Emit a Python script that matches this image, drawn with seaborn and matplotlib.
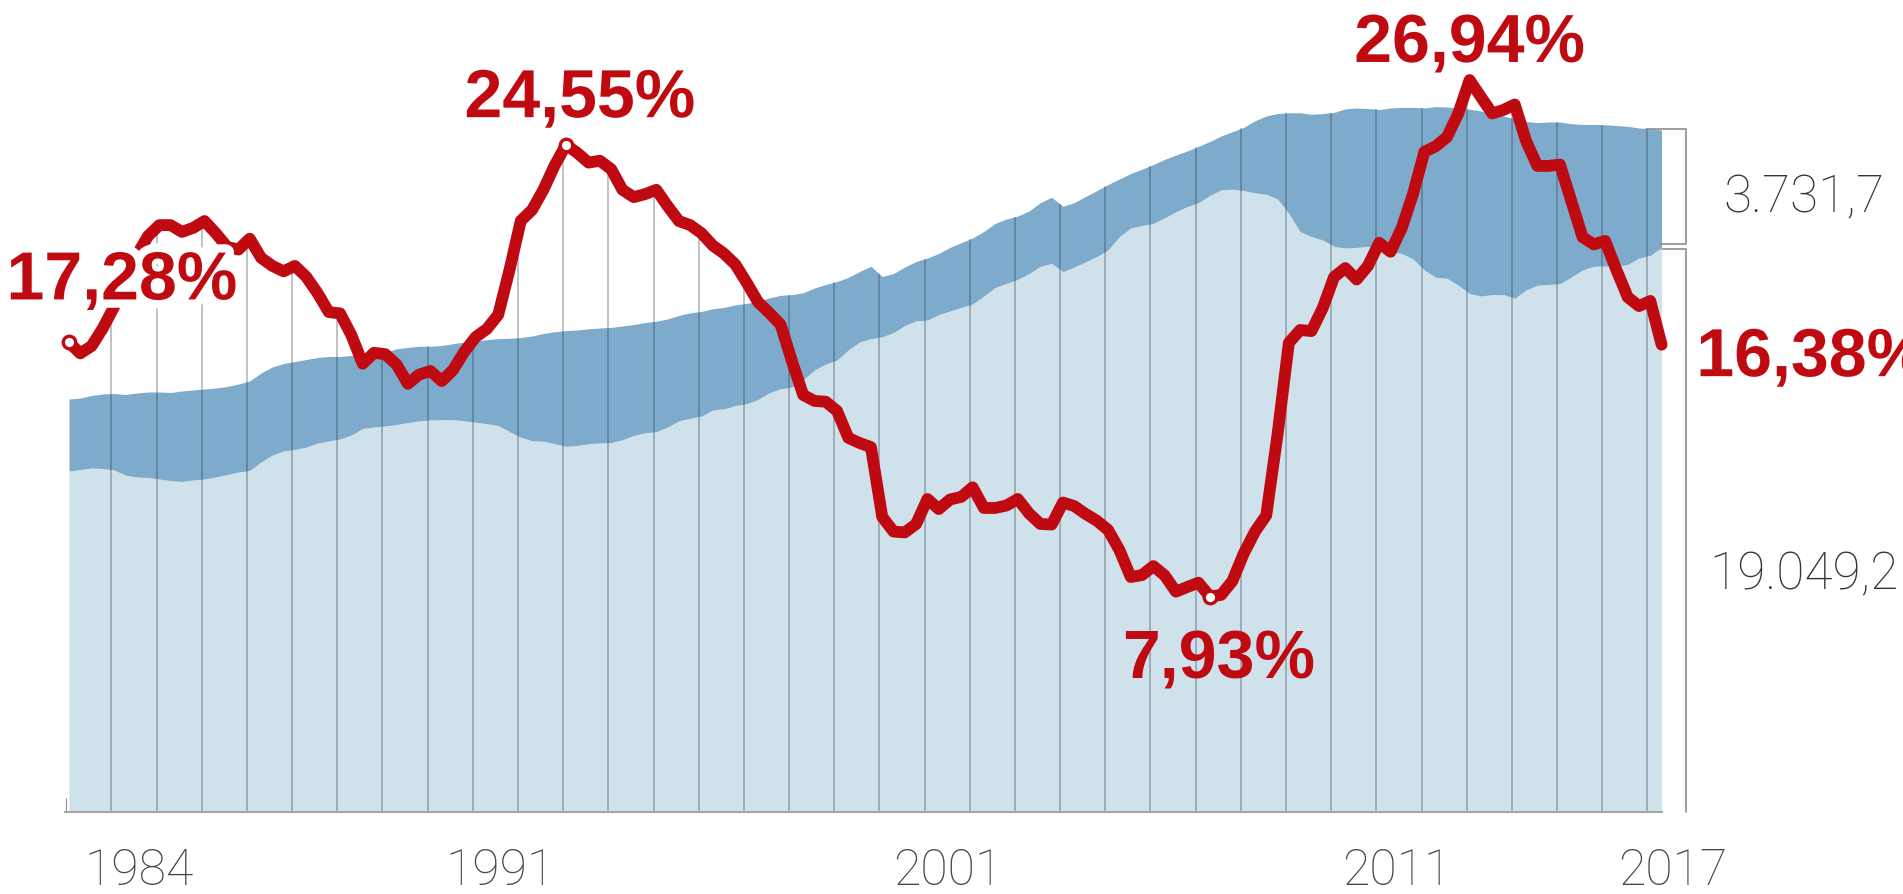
import numpy as np
import pandas as pd
import matplotlib
matplotlib.use("Agg")
import matplotlib.pyplot as plt
import matplotlib.patheffects as pe
import seaborn as sns
from matplotlib import font_manager

# EPA, quarterly series: 1982 Q1 - 2017 Q2
first_year = 1982

# unemployment rate (%)
paro = [17.28, 16.88, 17.15, 17.81, 18.6, 19.5, 20.5, 21.2, 21.6, 21.6,
        21.35, 21.5, 21.75, 21.3, 20.8, 20.7, 21.1, 20.4, 20.1, 19.9,
        20.1, 19.7, 19.1, 18.4, 18.35, 17.55, 16.5, 16.9, 16.85, 16.47,
        15.76, 16.1, 16.23, 15.86, 16.27, 16.94, 17.48, 17.78, 18.3, 19.95,
        21.76, 22.16, 22.9, 23.8, 24.55, 24.26, 23.9, 23.97, 23.66, 22.9,
        22.63, 22.74, 22.9, 22.3, 21.75, 21.6, 21.3, 20.85, 20.55, 20.15,
        19.48, 18.77, 18.37, 17.94, 16.6, 15.35, 15.13, 15.1, 14.76, 13.77,
        13.58, 13.43, 10.86, 10.32, 10.29, 10.6, 11.52, 11.15, 11.5, 11.6,
        11.95, 11.19, 11.19, 11.28, 11.52, 10.99, 10.6, 10.58, 11.39, 11.26,
        10.97, 10.72, 10.38, 9.64, 8.65, 8.72, 9.05, 8.71, 8.11, 8.28,
        8.44, 7.93, 7.99, 8.5, 9.51, 10.32, 10.92, 13.9, 17.27, 17.74,
        17.7, 18.55, 19.69, 20.02, 19.6, 20.1, 20.95, 20.62, 21.5, 22.76,
        24.3, 24.5, 24.84, 25.71, 26.94, 26.32, 25.71, 25.84, 26.04, 24.7,
        23.78, 23.78, 23.83, 22.5, 21.16, 20.89, 21.02, 19.95, 18.95, 18.62,
        18.81, 17.2]

# active population (thousands)
activos = [14387, 14418, 14496, 14542, 14558, 14527, 14573, 14605, 14605, 14589,
           14636, 14667, 14698, 14729, 14776, 14853, 14947, 15195, 15382, 15491,
           15553, 15615, 15678, 15709, 15709, 15740, 15740, 15662, 15833, 15948,
           15992, 16026, 16026, 16051, 16107, 16160, 16191, 16231, 16265, 16275,
           16300, 16346, 16424, 16480, 16514, 16533, 16570, 16595, 16614, 16657,
           16704, 16763, 16806, 16875, 16987, 17068, 17111, 17192, 17236, 17316,
           17360, 17428, 17531, 17609, 17634, 17690, 17839, 17948, 18041, 18166,
           18355, 18514, 18197, 18290, 18492, 18663, 18772, 18912, 19102, 19251,
           19394, 19599, 19848, 19985, 20078, 20234, 20495, 20663, 20380, 20495,
           20685, 20868, 21058, 21229, 21400, 21534, 21680, 21838, 21975, 22100,
           22246, 22395, 22566, 22700, 22834, 23039, 23188, 23266, 23288, 23288,
           23241, 23266, 23297, 23412, 23437, 23421, 23390, 23437, 23456, 23456,
           23437, 23481, 23468, 23437, 23400, 23344, 23266, 23188, 23095, 23017,
           22983, 23002, 23002, 22949, 22924, 22924, 22914, 22893, 22868, 22815,
           22790, 22753]

# employed (thousands)
ocupados = [12148, 12194, 12241, 12225, 12179, 12023, 11961, 11946, 11899, 11852,
            11821, 11868, 11899, 11961, 12039, 12117, 12163, 12428, 12645, 12770,
            12816, 12894, 13018, 13081, 13143, 13267, 13469, 13516, 13547, 13594,
            13653, 13709, 13734, 13743, 13743, 13709, 13662, 13619, 13563, 13370,
            13199, 13087, 13074, 12997, 12916, 12941, 12997, 13018, 13031, 13121,
            13255, 13336, 13370, 13516, 13709, 13787, 13858, 14045, 14082, 14185,
            14241, 14374, 14580, 14704, 14760, 14987, 15292, 15475, 15600, 15914,
            16163, 16265, 16321, 16455, 16673, 16819, 16844, 17012, 17124, 17236,
            17341, 17590, 17858, 17982, 18106, 18290, 18514, 18604, 18346, 18492,
            18651, 18819, 19024, 19441, 19705, 19783, 19848, 20019, 20212, 20371,
            20495, 20719, 20890, 20912, 20868, 20800, 20753, 20607, 20156, 19590,
            19441, 19332, 19136, 19083, 19102, 19136, 19052, 18968, 18912, 18741,
            18399, 18175, 18141, 17926, 17668, 17590, 17634, 17634, 17519, 17777,
            17926, 17948, 17973, 18175, 18399, 18514, 18523, 18514, 18570, 18772,
            18853, 19102]

tick_years = ["1984", "1991", "2001", "2011", "2017"]
tick_pos = [1983.61, 1991.60, 2001.52, 2011.46, 2017.57]

tasa_actual = 16.38
ocupados_actual = 19049.2
parados_actual = 3731.7

RED = "#c00a12"
LIGHT = "#cfe1eb"
DARK = "#7eaacc"
GRAY = "#474747"


def es_num(v, dec):
    s = f"{v:,.{dec}f}"
    return s.replace(",", "X").replace(".", ",").replace("X", ".")


sns.set_theme(style="white")
names = {f.name for f in font_manager.fontManager.ttflist}
if "Liberation Sans Narrow" in names:
    thin = dict(family=["Liberation Sans Narrow", "DejaVu Sans"])
    year_fs, side_fs = 40, 44
else:
    thin = dict(family=["Roboto", "DejaVu Sans"], fontweight="light")
    year_fs, side_fs = 36, 37
plt.rcParams["font.family"] = ["Liberation Sans", "DejaVu Sans"]

df = pd.DataFrame({"t": first_year + 0.0625 + np.arange(len(paro)) / 4,
                   "paro": paro, "activos": activos, "ocupados": ocupados})

W, H = 1903, 895
fig = plt.figure(figsize=(W / 100, H / 100), dpi=100)
ax = fig.add_axes([65 / W, 82 / H, 1597 / W, 753 / H])
ax2 = ax.twinx()

# stacked area: employed + unemployed
ax.fill_between(df.t, 0, df.ocupados, color=LIGHT, lw=0, zorder=1)
ax.fill_between(df.t, df.ocupados, df.activos, color=DARK, lw=0, zorder=1)

sns.lineplot(data=df, x="t", y="paro", ax=ax2, color=RED,
             estimator=None, sort=False)
line = ax2.lines[-1]
line.set_linewidth(8.5)
line.set_solid_capstyle("round")
line.set_solid_joinstyle("round")
line.set_clip_on(False)
line.set_zorder(4)

ax.set_xlim(1981.974, 2017.3215)
ax.set_ylim(1543, 24961)
ax2.set_ylim(0, 27.714)

# yearly drop lines up to whichever is higher: red line or area
years = np.arange(1983, 2018)
r = np.interp(years, df.t, df.paro)
a = np.interp(years, df.t, df.activos)
top_disp = np.maximum(ax2.transData.transform(np.c_[years, r])[:, 1],
                      ax.transData.transform(np.c_[years, a])[:, 1])
tops = ax.transData.inverted().transform(np.c_[years, top_disp])[:, 1]
ax.vlines(years, 0, tops, color="#1c2833", alpha=0.28, lw=1.4, zorder=2)

# quarter ticks
ax.set_xticks([])
ax.set_xticks(np.arange(first_year, 2017.3, 0.25), minor=True)
ax.tick_params(axis="x", which="minor", direction="in", length=10, width=0.8,
               color="#8a9096", bottom=True, labelbottom=False)
for s in ["left", "right", "top", "bottom"]:
    ax2.spines[s].set_visible(False)
    if s != "bottom":
        ax.spines[s].set_visible(False)
ax.spines["bottom"].set_color("#a6a6a6")
ax.spines["bottom"].set_linewidth(1.5)
ax.set_yticks([])
ax2.set_yticks([])
ax.set_xlabel("")
ax2.set_xlabel("")
ax2.set_ylabel("")

for lab, pos in zip(tick_years, tick_pos):
    ax.annotate(lab, xy=(pos, 0), xycoords=("data", "axes fraction"), xytext=(0, -52),
                textcoords="offset points", ha="center", va="baseline",
                fontsize=year_fs, color=GRAY, annotation_clip=False, **thin)

# callouts on the rate line
i_start = 0
i_90 = int(np.argmax(paro[:100]))
i_max = int(np.argmax(paro))
i_min = int(np.argmin(paro))
i_end = len(paro) - 1
callouts = [
    (i_start, paro[i_start], (-45, 31), "left", True),
    (i_90, paro[i_90], (10, 20), "center", True),
    (i_max, paro[i_max], (0, 13), "center", True),
    (i_min, paro[i_min], (6, -58), "center", False),
    (i_end, tasa_actual, (25, -22.7), "left", True),
]
for i, val, off, ha, halo in callouts:
    fx = [pe.withStroke(linewidth=12, foreground="white")] if halo else []
    ax2.annotate(es_num(val, 2) + "%", xy=(df.t[i], df.paro[i]), xytext=off,
                 textcoords="offset points", ha=ha, va="baseline", fontsize=49,
                 fontweight="bold", color=RED, path_effects=fx,
                 annotation_clip=False, zorder=6)

mk = [i_start, i_90, i_min]
ax2.plot(df.t[mk], df.paro[mk], "o", ms=9, mfc="white", mec=RED, mew=2.4,
         zorder=5, clip_on=False)

# brackets with current figures
x_end = df.t.iloc[-1]
bx = x_end + 0.54
total = ocupados_actual + parados_actual
gap = 155
y0 = ax.get_ylim()[0]
kw = dict(color="#8c8c8c", lw=1.2, clip_on=False, zorder=4)
ax.plot([x_end - 0.35, bx, bx, x_end - 0.04],
        [total, total, ocupados_actual + gap, ocupados_actual + gap], **kw)
ax.plot([x_end, bx, bx], [ocupados_actual, ocupados_actual, y0], **kw)

txt = dict(textcoords="offset points", ha="center", va="baseline", fontsize=side_fs,
           color="#37323a", annotation_clip=False, **thin)
ax.annotate(es_num(parados_actual, 1), xy=(bx, (total + ocupados_actual + gap) / 2),
            xytext=(85, -17.6), **txt)
ax.annotate(es_num(ocupados_actual, 1), xy=(bx, (ocupados_actual + y0) / 2),
            xytext=(85, -42), **txt)

fig.savefig("out.png", dpi=100)
